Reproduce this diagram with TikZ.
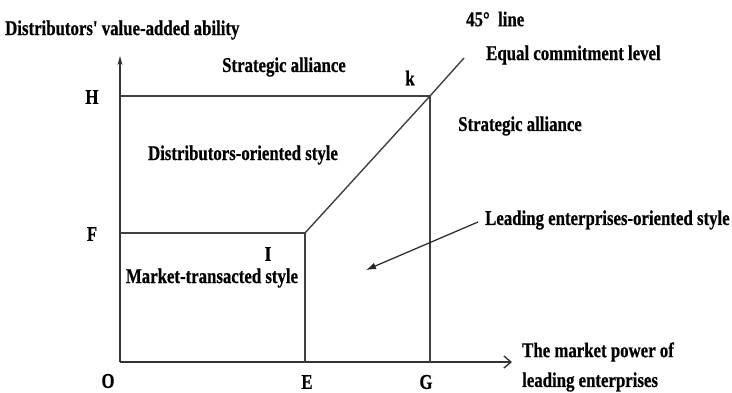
\documentclass[tikz,border=0pt]{standalone}
\usepackage{fontspec}
\setmainfont{Liberation Serif}
\newfontfamily\lblfont[FakeStretch=0.8,FakeBold=0.6]{Liberation Serif}
\usetikzlibrary{arrows.meta}
\begin{document}
\begin{tikzpicture}[
    x=1pt, y=-1pt,
    every node/.style={font=\lblfont\fontsize{21}{23}\selectfont\bfseries, inner sep=0pt},
    ln/.style={black!75, line width=1.4pt},
    axis/.style={black!80, line width=1.4pt},
    arr/.style={-{Latex[length=10pt,width=7pt]}, black!85, line width=1.2pt}
]
\useasboundingbox (0,0) rectangle (732,392);
% points
\coordinate (O)    at (120,362);
\coordinate (ytip) at (120,56);
\coordinate (xtip) at (512,362);
\coordinate (H)    at (120,96);
\coordinate (k)    at (430,96);
\coordinate (F)    at (120,233);
\coordinate (I)    at (305,233);
\coordinate (E)    at (305,362);
\coordinate (G)    at (430,362);
\coordinate (ltip) at (464,58);
% axes
\draw[axis, -{Stealth[length=9pt,width=5pt]}] (O) -- (ytip);
\draw[axis, -{Straight Barb[length=7pt,width=12pt]}] (O) -- (xtip);
% regions
\draw[ln] (H) -- (k) -- (G);
\draw[ln] (F) -- (I) -- (E);
\draw[ln] (I) -- (k) -- (ltip);
% point labels
\node (lH) at (92,97)  {H};
\node (lF) at (92,234) {F};
\node (lO) at (108,381) {O};
\node (lE) at (307,382) {E};
\node (lG) at (426,382) {G};
\node (lk) at (410,78) {k};
\node (lI) at (268,254) {I};
% texts
\node[anchor=west] (yname) at (5,30) {Distributors' value-added ability};
\node (sa1) at (284,67) {Strategic alliance};
\node[anchor=west] (sa2) at (458,126) {Strategic alliance};
\node (dos) at (243,155) {Distributors-oriented style};
\node (mts) at (212,278) {Market-transacted style};
\node[anchor=west] (los) at (485,220) {Leading enterprises-oriented style};
\node[anchor=west] (deg) at (466,19) {45°~~line};
\node[anchor=west] (ecl) at (486,55) {Equal commitment level};
\node[anchor=west] (xn1) at (522,352) {The market power of};
\node[anchor=west] (xn2) at (522,382) {leading enterprises};
% pointer
\coordinate (los0) at (478,222);
\coordinate (lostip) at (366,270);
\draw[arr] (los0) -- (lostip);
\end{tikzpicture}
\end{document}
